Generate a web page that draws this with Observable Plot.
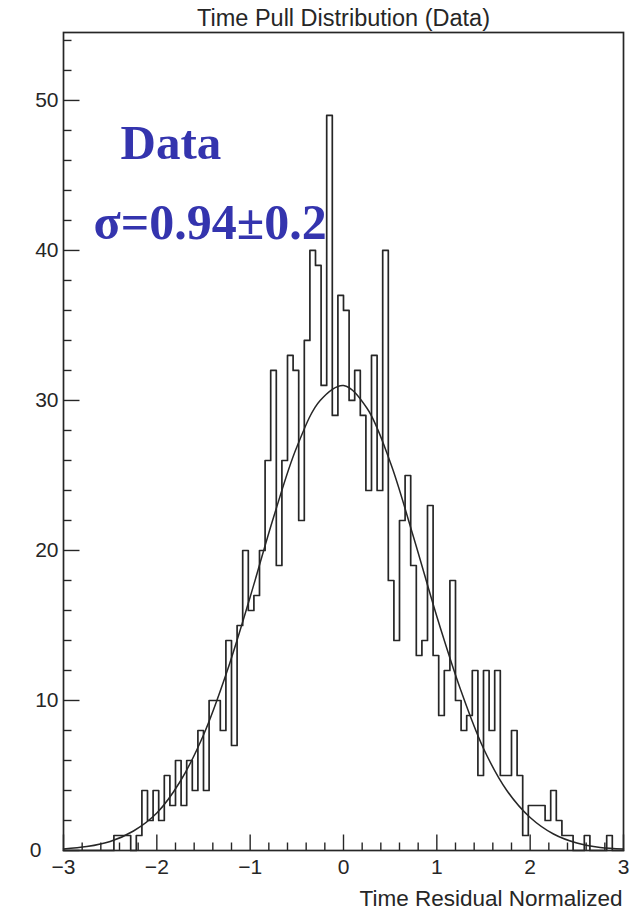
<!DOCTYPE html>
<html>
<head>
<meta charset="utf-8">
<script src="https://cdn.jsdelivr.net/npm/d3@7"></script>
<script src="https://cdn.jsdelivr.net/npm/@observablehq/plot@0.6"></script>
<style>
  body { margin: 0; background: #fff; }
  svg { display: block; }
</style>
</head>
<body>
<div id="chart"></div>
<script>
// Histogram of normalized time residuals: 100 bins of width 0.06 over [-3, 3]
const binStart = -3;
const binWidth = 0.06;
const counts = [
  0, 0, 0, 0, 0, 0, 0, 0, 0, 1,
  1, 1, 0, 1, 4, 2, 4, 2, 5, 3,
  6, 3, 6, 4, 8, 4, 10, 10, 8, 14,
  7, 15, 20, 16, 17, 20, 26, 32, 19, 26,
  33, 32, 22, 34, 40, 39, 31, 49, 29, 37,
  36, 30, 32, 29, 24, 33, 24, 40, 18, 14,
  22, 25, 19, 13, 14, 23, 13, 9, 12, 18,
  10, 8, 9, 12, 5, 12, 8, 12, 5, 5,
  8, 5, 1, 3, 3, 3, 2, 4, 2, 1,
  1, 0, 0, 1, 0, 0, 0, 1, 0, 0
];

// Gaussian fit curve, sampled
const fitX = [-3, -2.75, -2.5, -2.25, -2, -1.75, -1.5, -1.25, -1, -0.75, -0.5, -0.25, 0,
              0.25, 0.5, 0.75, 1, 1.25, 1.5, 1.75, 2, 2.25, 2.5, 2.75, 3];
const fitY = [0.1, 0.26, 0.6, 1.3, 2.5, 4.6, 7.7, 11.9, 16.9, 22.2, 26.9, 30.0, 31.0,
              29.5, 25.9, 20.9, 15.6, 10.8, 6.8, 4.0, 2.2, 1.1, 0.5, 0.2, 0.1];

// Axis ticks and labels
const xMajor = [-3, -2, -1, 0, 1, 2, 3];
const xMinor = d3.range(-14, 15).map(k => k / 5).filter(v => !Number.isInteger(v));
const yMajor = [0, 10, 20, 30, 40, 50];
const yMinor = d3.range(2, 55, 2).filter(v => v % 10 !== 0);
const yLabels = [10, 20, 30, 40, 50];

const titleText = "Time Pull Distribution (Data)";
const xTitle = "Time Residual Normalized";
const note1 = "Data";
const note2 = "σ=0.94±0.2";

// step outline: left edge of each bin, plus the closing right edge
const steps = counts.map((c, i) => ({x: binStart + i * binWidth, y: c}));
steps.push({x: binStart + counts.length * binWidth, y: counts[counts.length - 1]});
const fit = fitX.map((x, i) => ({x, y: fitY[i]}));

const ink = "#262626";
const sans = "Liberation Sans, Arial, sans-serif";
const serif = "Liberation Serif, Times New Roman, serif";
const blue = "#3434ae";

const tickOpts = {anchor: "start", r: 0, stroke: ink, strokeWidth: 1.4, strokeLinecap: "butt"};

const chart = Plot.plot({
  width: 637,
  height: 911,
  marginLeft: 63,
  marginRight: 14,
  marginTop: 32,
  marginBottom: 61,
  style: {background: "#fff", fontFamily: sans},
  x: {domain: [-3, 3], axis: null},
  y: {domain: [0, 54.53], axis: null},
  marks: [
    // histogram outline
    Plot.line(steps, {x: "x", y: "y", curve: "step-after", stroke: ink, strokeWidth: 1.7}),
    // fitted gaussian
    Plot.line(fit, {x: "x", y: "y", curve: "catmull-rom", stroke: ink, strokeWidth: 1.5}),
    // inward ticks
    Plot.vector(xMajor, {x: d => d, frameAnchor: "bottom", rotate: 0, length: 16, ...tickOpts}),
    Plot.vector(xMinor, {x: d => d, frameAnchor: "bottom", rotate: 0, length: 8, ...tickOpts}),
    Plot.vector(yMajor, {y: d => d, frameAnchor: "left", rotate: 90, length: 16, ...tickOpts}),
    Plot.vector(yMinor, {y: d => d, frameAnchor: "left", rotate: 90, length: 8, ...tickOpts}),
    Plot.frame({stroke: ink, strokeWidth: 1.7}),
    // tick labels
    Plot.text(xMajor, {x: d => d, frameAnchor: "bottom", dy: 17, text: d => d3.format("")(d).replace("-", "−"),
      fontSize: 21, fill: ink, lineAnchor: "middle"}),
    Plot.text(yLabels, {y: d => d, frameAnchor: "left", dx: -5, text: d => String(d),
      textAnchor: "end", fontSize: 21, fill: ink, lineAnchor: "middle"}),
    Plot.text([0], {y: d => d, frameAnchor: "left", dx: -22, text: d => String(d),
      textAnchor: "end", fontSize: 21, fill: ink, lineAnchor: "middle"}),
    // titles
    Plot.text([titleText], {frameAnchor: "top", dy: -7, text: d => d, fontSize: 23.5, fill: ink, lineAnchor: "bottom"}),
    Plot.text([xTitle], {frameAnchor: "bottom-right", dx: -1, dy: 55, text: d => d, fontSize: 22.5,
      fill: ink, textAnchor: "end", lineAnchor: "bottom"}),
    // annotations
    Plot.text([note1], {frameAnchor: "top-left", dx: 57, dy: 126, text: d => d, fontSize: 49,
      fontFamily: serif, fontWeight: "bold", fill: blue, textAnchor: "start", lineAnchor: "bottom"}),
    Plot.text([note2], {frameAnchor: "top-left", dx: 30, dy: 206, text: d => d, fontSize: 50,
      fontFamily: serif, fontWeight: "bold", fill: blue, textAnchor: "start", lineAnchor: "bottom"})
  ]
});

document.getElementById("chart").appendChild(chart);
</script>
</body>
</html>
